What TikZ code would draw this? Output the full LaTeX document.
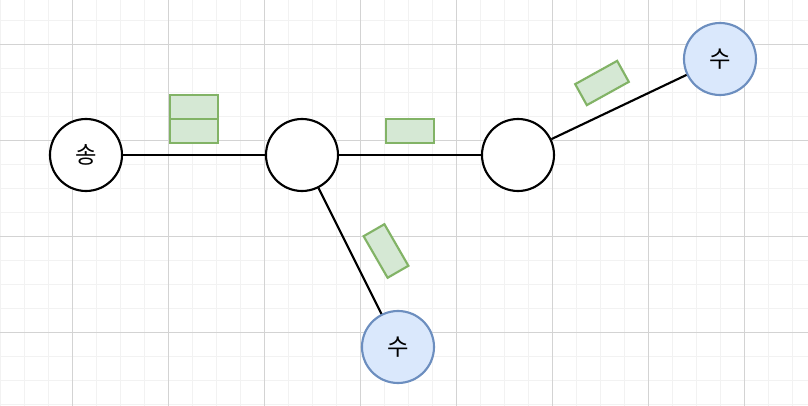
\documentclass[tikz,border=0pt]{standalone}
\usepackage{fontspec}
\newfontfamily\krfont[Scale=1.75]{Noto Sans CJK SC}
\definecolor{gfill}{HTML}{D5E8D4}
\definecolor{gdraw}{HTML}{82B366}
\definecolor{bfill}{HTML}{DAE8FC}
\definecolor{bdraw}{HTML}{6C8EBF}
\definecolor{gridminor}{HTML}{F2F2F2}
\definecolor{gridmajor}{HTML}{D3D3D3}
\begin{document}
\begin{tikzpicture}[x=0.75pt,y=-0.75pt,
  vert/.style={circle,draw=black,fill=white,line width=1.6pt,minimum size=72*0.75pt,inner sep=0pt,font=\krfont},
  sink/.style={vert,draw=bdraw,fill=bfill},
  lab/.style={rectangle,draw=gdraw,fill=gfill,line width=1.6pt,minimum width=48*0.75pt,minimum height=24*0.75pt,inner sep=0pt},
  edge/.style={line width=1.6pt}]
\useasboundingbox (0,0) rectangle (808,406);
\fill[white] (0,0) rectangle (808,406);
\foreach \x in {0,24,...,800} \draw[gridminor,line width=0.75pt] (\x,0) -- (\x,406);
\foreach \y in {21,45,...,405} \draw[gridminor,line width=0.75pt] (0,\y) -- (808,\y);
\foreach \x in {72,168,...,800} \draw[gridmajor,line width=0.75pt] (\x,0) -- (\x,406);
\foreach \y in {45,141,...,405} \draw[gridmajor,line width=0.75pt] (0,\y) -- (808,\y);

\node[vert] (s) at (86,155) {송};
\node[vert] (a) at (302,155) {};
\node[vert] (b) at (518,155) {};
\node[sink] (t1) at (398,347) {수};
\node[sink] (t2) at (720,59) {수};

\draw[edge] (s) -- (a);
\draw[edge] (a) -- (b);
\draw[edge] (a) -- (t1);
\draw[edge] (b) -- (t2);

\node[lab] (l1) at (194,107) {};
\node[lab] (l2) at (194,131) {};
\node[lab] (l3) at (410,131) {};
\node[lab,rotate=-60] (l4) at (386,251) {};
\node[lab,rotate=29] (l5) at (602,83) {};
\end{tikzpicture}
\end{document}
